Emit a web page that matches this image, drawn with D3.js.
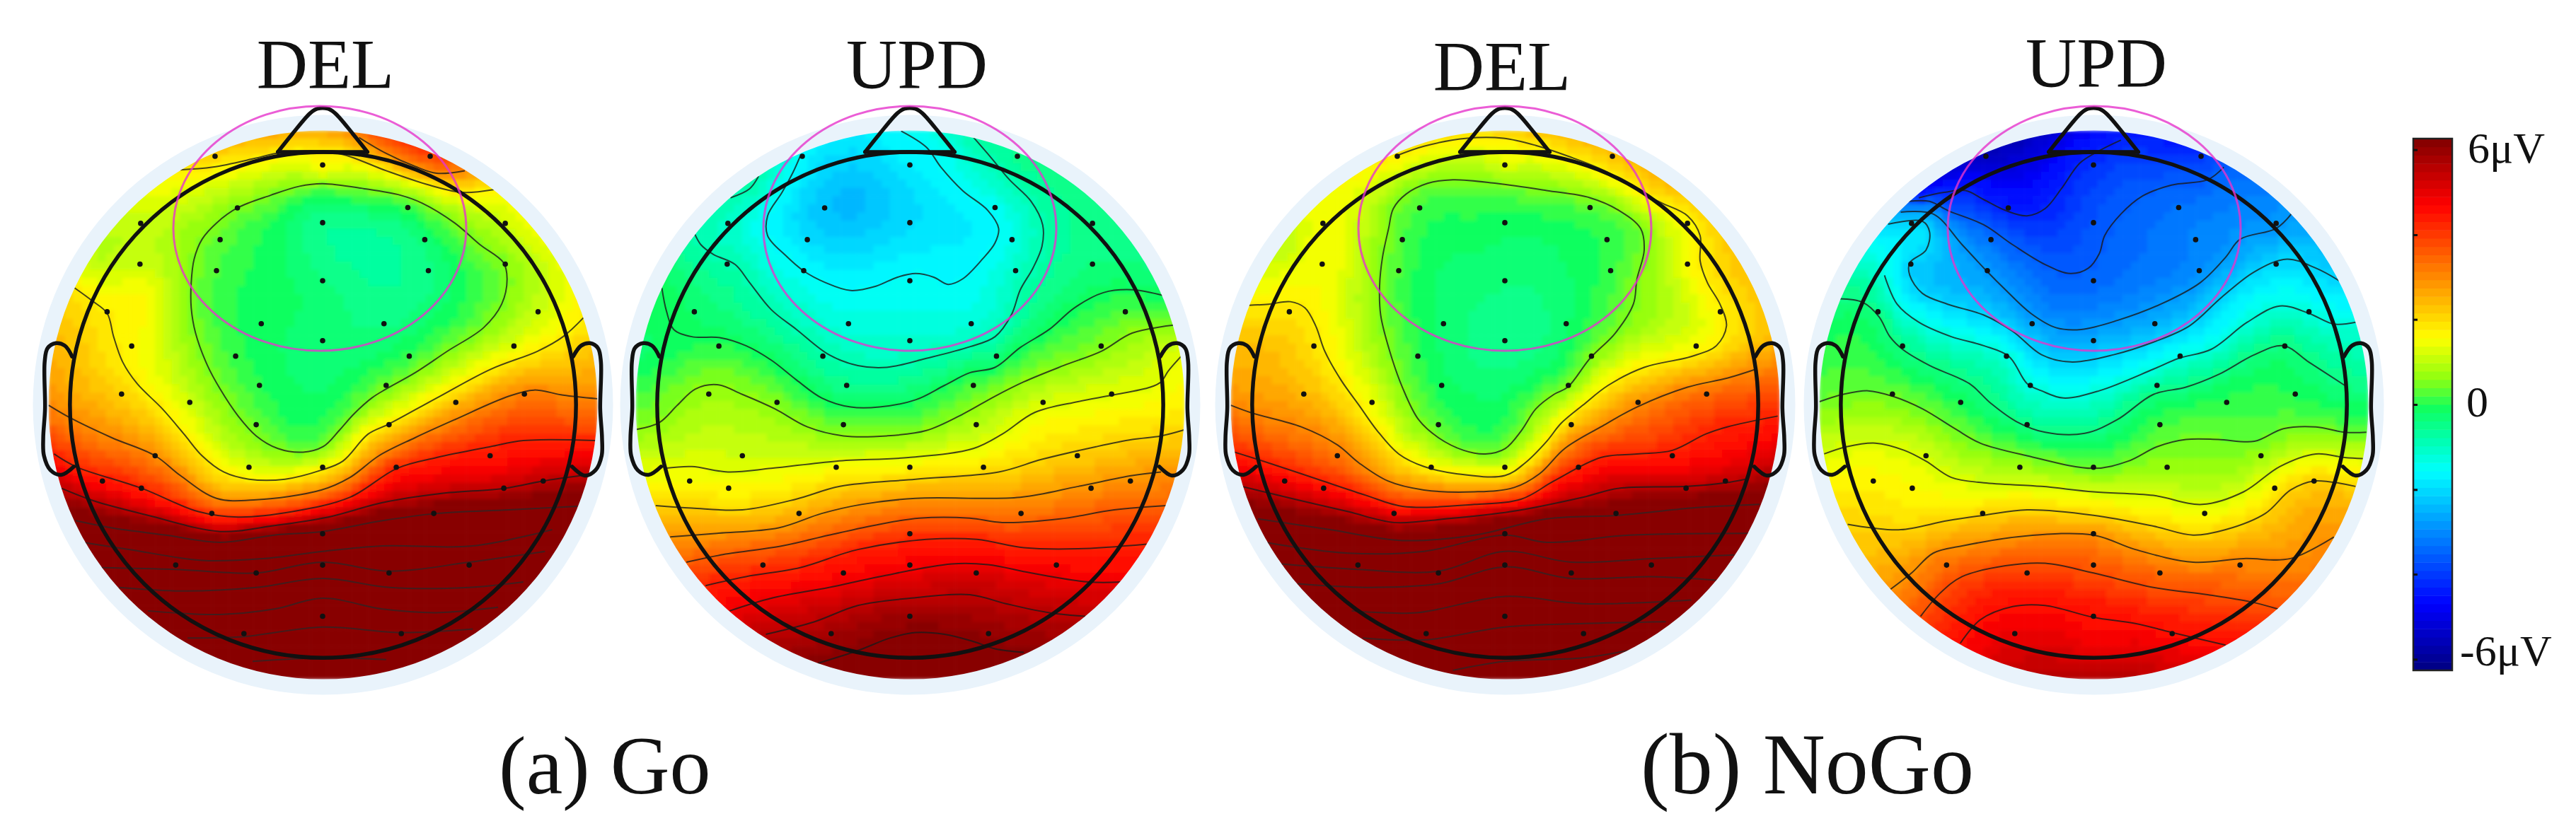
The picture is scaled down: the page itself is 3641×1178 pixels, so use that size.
<!DOCTYPE html>
<html>
<head>
<meta charset="utf-8">
<style>
  html, body { margin: 0; background: #fff; }
  svg { display: block; }
  text { font-family: "Liberation Serif", serif; fill: #111; }
</style>
<script src="https://d3js.org/d3.v7.min.js"></script>
</head>
<body>
<div id="chart"></div>
<script>
// all head data is digitised in the same 0-1568 space for each map
var electrodes = [[486,100],[1082,100],[784,124],[548,243],[1020,242],[784,284],[280,286],[1290,286],[500,331],[1067,331],
  [278,399],[1290,399],[490,417],[1077,417],[784,445],[187,531],[1381,531],[614,564],[954,564],[784,611],[255,626],[1314,626],
  [543,654],[1024,654],[609,735],[960,735],[227,759],[1343,759],[416,782],[1153,782],[600,844],[968,844],[320,930],[1248,930],
  [580,962],[784,962],[988,962],[174,1000],[1395,1000],[282,1020],[1286,1020],[477,1090],[1092,1090],[784,1146],[377,1233],
  [784,1233],[1190,1233],[600,1255],[968,1255],[784,1375],[566,1423],[1002,1423]];

var titles = ["DEL", "UPD", "DEL", "UPD"];
var captions = ["(a) Go", "(b) NoGo"];
var colorTicks = [-5.75, -3.83, -1.92, 0, 1.92, 3.83, 5.75];
var colorLabels = ["6μV", "0", "-6μV"];
var colorLabelValues = [6, 0, -6];

// contour lines (level in µV)
var goDelLevels = [0.5, 1.7, 1.7, 2.9, 2.9, 4.1, 5.3, 6.5, 7.7, 8.9, 10.1, 11.3, 12.5, 13.7];
var goDelLines = [
  [[784,176],[720,183],[640,208],[548,243],[490,285],[450,330],[428,385],[420,450],[420,520],[432,590],[465,680],[500,745],[550,820],[600,875],[660,910],[730,920],[785,905],[830,860],[870,815],[920,770],[960,745],[1040,700],[1130,640],[1230,575],[1280,510],[1295,440],[1285,395],[1220,345],[1150,285],[1060,230],[1000,208],[900,190]],
  [[97,465],[145,500],[187,535],[205,600],[230,670],[270,730],[340,800],[400,870],[450,930],[510,975],[580,995],[680,995],[780,970],[840,945],[910,870],[968,842],[1100,770],[1250,690],[1380,640],[1450,600],[1507,547]],
  [[380,138],[480,130],[600,105],[665,90],[750,85],[840,95],[960,140],[1080,180],[1170,200],[1260,192]],
  [[885,48],[960,92],[1040,128],[1100,147],[1178,140]],
  [[25,790],[85,825],[200,880],[320,930],[390,985],[490,1048],[600,1052],[780,1025],[860,990],[940,930],[1040,880],[1150,830],[1300,765],[1370,748],[1450,762],[1545,772]],
  [[40,925],[100,960],[282,1020],[440,1085],[550,1100],[700,1085],[860,1045],[990,965],[1100,935],[1248,905],[1340,888],[1540,888]],
  [[60,1020],[150,1055],[300,1095],[500,1140],[640,1125],[800,1100],[950,1060],[1110,1035],[1290,1020],[1395,1000],[1500,985]],
  [[100,1110],[200,1130],[350,1150],[500,1170],[650,1150],[784,1140],[950,1110],[1100,1090],[1300,1080],[1490,1070]],
  [[120,1170],[250,1190],[450,1220],[620,1215],[784,1195],[950,1180],[1200,1180],[1420,1135]],
  [[170,1240],[377,1245],[600,1255],[784,1225],[968,1250],[1190,1225],[1400,1195]],
  [[220,1295],[400,1305],[600,1295],[784,1270],[970,1295],[1190,1295],[1340,1280]],
  [[300,1360],[500,1370],[650,1355],[784,1325],[950,1355],[1100,1365],[1270,1350]],
  [[410,1435],[560,1432],[784,1405],[1000,1420],[1200,1410]],
  [[590,1500],[784,1490],[960,1495]]
];
var goDelClosed = [0];
var goDelPeaks = [[950,370,-0.6],[784,500,-0.25],[650,400,-0.1],[740,800,-0.1],[160,400,1.0],[300,300,1.0],[1350,300,1.3],[784,150,1.3],
  [784,40,2.4],[650,60,2.2],[1120,90,3.8],[100,640,2.2],[1530,680,2.4],[300,500,1.5]];

var goUpdLevels = [-1.5, -0.8, -0.8, -0.1, 0.6, 1.3, 2.0, 2.7, 3.4, 4.1, 4.7, 5.3, 5.9];
var goUpdLines = [
  [[760,30],[830,75],[870,130],[930,195],[1000,250],[1030,300],[1020,340],[985,385],[930,440],[890,455],[850,435],[800,425],[750,435],[690,460],[620,472],[550,450],[490,418],[440,375],[390,320],[390,265],[430,200],[460,145],[480,100]],
  [[958,45],[1010,105],[1060,165],[1120,225],[1152,290],[1150,350],[1125,410],[1090,470],[1065,540],[1020,600],[950,628],[830,660],[720,685],[640,680],[560,650],[470,580],[400,525],[340,450],[300,400],[240,372],[205,345],[188,315]],
  [[287,215],[340,190],[365,155]],
  [[97,465],[110,530],[130,580],[180,600],[260,603],[330,625],[400,665],[470,720],[540,770],[620,795],[700,795],[800,775],[880,735],[950,700],[1020,685],[1090,630],[1170,580],[1240,520],[1320,478],[1400,470],[1490,487]],
  [[22,858],[90,838],[140,790],[190,745],[250,733],[320,760],[410,800],[500,850],[600,875],[720,875],[830,860],[930,815],[1020,765],[1100,725],[1210,680],[1315,640],[1400,590],[1515,568]],
  [[105,965],[180,960],[280,975],[400,965],[580,945],[780,935],[960,910],[1040,870],[1130,810],[1250,780],[1345,762],[1450,740],[1480,725],[1500,695],[1535,655]],
  [[80,1068],[180,1075],[320,1080],[470,1050],[590,1015],[800,995],[1030,975],[1150,940],[1300,905],[1400,885],[1480,875],[1545,858]],
  [[120,1155],[250,1145],[420,1130],[540,1090],[650,1065],[800,1048],[1090,1045],[1250,1015],[1400,985],[1480,975]],
  [[165,1225],[260,1205],[430,1180],[560,1150],[700,1120],[810,1103],[950,1103],[1040,1115],[1200,1105],[1350,1080],[1495,1068]],
  [[218,1290],[330,1265],[480,1240],[640,1190],[830,1162],[970,1162],[1100,1185],[1250,1188],[1440,1175]],
  [[285,1360],[400,1325],[560,1295],[700,1265],[900,1230],[1000,1232],[1120,1255],[1280,1280],[1370,1280]],
  [[385,1425],[520,1390],[640,1345],[784,1325],[950,1315],[1050,1340],[1170,1365],[1270,1375]],
  [[530,1505],[640,1470],[730,1435],[800,1420],[880,1425],[960,1445],[1020,1465],[1100,1475]]
];
var goUpdClosed = [];
var goUpdPeaks = [[640,210,-2.3],[550,260,-2.2],[784,290,-1.9],[620,340,-2.0],[784,100,-1.6],[1400,300,-0.5],[200,200,-0.5],[60,640,-0.2],[784,1540,6.0]];

var noGoDelLevels = [0.5, 1.7, 2.9, 4.1, 5.3, 6.5, 7.7, 8.9, 10.1, 11.3, 12.5, 13.7];
var noGoDelLines = [
  [[640,165],[570,175],[510,205],[475,245],[462,300],[445,380],[437,460],[440,540],[465,640],[500,740],[545,830],[600,880],[670,915],[730,925],[785,910],[830,860],[870,800],[920,760],[958,740],[1020,660],[1090,590],[1140,510],[1150,440],[1170,360],[1160,300],[1100,250],[1020,215],[900,195],[760,175]],
  [[75,513],[130,510],[190,503],[230,520],[260,570],[285,640],[330,720],[380,790],[430,860],[490,925],[560,960],[650,980],[784,985],[840,950],[900,890],[940,840],[1000,790],[1070,735],[1170,685],[1300,655],[1370,625],[1398,570],[1380,510],[1345,450],[1325,390],[1325,320],[1290,265],[1220,230],[1170,205],[1060,140],[960,100],[870,70],[780,50],[680,50],[560,72],[480,100]],
  [[25,790],[85,812],[220,850],[320,900],[380,950],[460,1000],[560,1025],[700,1030],[810,1018],[880,980],[950,910],[1050,850],[1150,795],[1290,740],[1400,715],[1480,690]],
  [[35,920],[130,950],[280,1000],[400,1040],[500,1070],[700,1065],[830,1050],[920,1000],[1050,935],[1150,925],[1248,915],[1340,870],[1400,850],[1540,820]],
  [[55,1015],[200,1050],[350,1085],[477,1115],[620,1105],[800,1085],[1000,1045],[1100,1020],[1290,1015],[1395,1005],[1450,995]],
  [[100,1105],[300,1135],[500,1165],[700,1150],[900,1105],[1100,1095],[1300,1075],[1490,1065]],
  [[120,1170],[350,1200],[560,1195],[784,1150],[900,1170],[1130,1150],[1460,1145]],
  [[165,1230],[377,1245],[600,1250],[784,1195],[968,1225],[1190,1215],[1420,1205]],
  [[210,1285],[400,1295],[600,1285],[784,1238],[968,1270],[1190,1265],[1370,1275]],
  [[360,1360],[540,1365],[784,1320],[1000,1340],[1300,1330]],
  [[390,1435],[566,1440],[784,1405],[1002,1395],[1230,1390]],
  [[640,1525],[784,1500],[1000,1490],[1150,1465]]
];
var noGoDelClosed = [0];
var noGoDelPeaks = [[784,450,-0.35],[700,550,-0.4],[700,300,-0.05],[700,800,-0.1],[1000,350,-0.05],[784,30,2.2],[784,130,1.2],[1100,80,2.4],
  [1450,400,2.2],[1300,500,1.2],[170,350,1.0],[300,350,1.5],[100,640,2.3],[1520,640,2.5]];

var noGoUpdLevels = [-4.1, -3.4, -2.7, -2.0, -1.2, -0.4, 0.4, 1.2, 2.0, 2.8, 3.6, 4.4];
var noGoUpdLines = [
  [[300,215],[370,200],[430,195],[480,220],[540,250],[600,265],[650,245],[695,190],[745,120],[790,90],[860,55]],
  [[270,225],[330,225],[380,250],[480,290],[560,345],[650,400],[720,425],[770,410],[800,370],[815,320],[860,260],[920,210],[1000,180],[1100,165],[1145,130]],
  [[250,255],[340,260],[420,345],[490,420],[540,470],[610,535],[680,575],[750,580],[850,555],[970,510],[1080,450],[1150,380],[1190,330],[1290,300],[1332,260]],
  [[215,288],[310,280],[330,310],[320,360],[275,395],[275,430],[310,480],[380,510],[480,540],[560,585],[640,650],[720,670],[840,650],[950,615],[1050,570],[1140,490],[1230,420],[1320,385],[1400,410],[1465,445]],
  [[205,430],[240,510],[300,560],[390,600],[480,625],[550,655],[600,730],[640,750],[700,770],[800,750],[950,690],[1020,660],[1110,635],[1210,560],[1300,515],[1380,535],[1450,565],[1510,560]],
  [[80,495],[145,505],[190,545],[220,600],[255,635],[330,680],[440,730],[500,785],[570,835],[650,865],[760,868],[850,830],[950,760],[1040,740],[1130,705],[1230,650],[1310,625],[1380,670],[1480,735]],
  [[25,780],[90,760],[160,750],[227,765],[310,800],[400,855],[470,895],[600,930],[784,965],[880,945],[960,905],[1040,885],[1130,885],[1230,890],[1310,855],[1400,850],[1480,865],[1540,865]],
  [[38,925],[100,905],[180,895],[260,915],[320,945],[390,990],[480,1005],[640,1015],[784,1030],[950,1040],[1085,1065],[1200,1030],[1300,960],[1400,925],[1480,935],[1530,938]],
  [[103,1120],[170,1130],[250,1135],[380,1110],[480,1095],[600,1080],[784,1095],[950,1125],[1060,1150],[1150,1135],[1260,1090],[1330,1025],[1395,1000],[1510,1015]],
  [[222,1300],[280,1255],[340,1200],[420,1180],[600,1152],[784,1150],[900,1190],[1060,1225],[1200,1215],[1330,1215],[1450,1155]],
  [[305,1375],[360,1310],[420,1265],[540,1235],[650,1228],[784,1255],[950,1295],[1100,1315],[1220,1335],[1295,1355]],
  [[415,1450],[470,1385],[560,1348],[650,1345],[784,1378],[900,1395],[1002,1420],[1150,1455]]
];
var noGoUpdClosed = [];
var noGoUpdPeaks = [[600,130,-4.8],[784,250,-3.6],[1050,300,-3.0],[784,45,-4.4],[1060,90,-4.0],[784,1530,5.3],[784,1450,4.6]];

var maps = [
  {levels: goDelLevels, lines: goDelLines, closed: goDelClosed, peaks: goDelPeaks, left: 56, title: 460, titleY: 124, ringX: 452},
  {levels: goUpdLevels, lines: goUpdLines, closed: goUpdClosed, peaks: goUpdPeaks, left: 886, title: 1296, titleY: 124, ringX: 1286},
  {levels: noGoDelLevels, lines: noGoDelLines, closed: noGoDelClosed, peaks: noGoDelPeaks, left: 1727, title: 2123, titleY: 127, ringX: 2127},
  {levels: noGoUpdLevels, lines: noGoUpdLines, closed: noGoUpdClosed, peaks: noGoUpdPeaks, left: 2559, title: 2963, titleY: 122, ringX: 2960}
];

var width = 3641, height = 1178;
var headX = 785, headY = 789, headR = 701;
var cells = 67;

var svg = d3.select("#chart").append("svg").attr("width", width).attr("height", height);
var defs = svg.append("defs");
defs.append("filter").attr("id", "soft").attr("x", "-5%").attr("y", "-5%").attr("width", "110%").attr("height", "110%")
  .append("feGaussianBlur").attr("stdDeviation", 2.5);

// jet as the colour bar shows it, the greens stay saturated around 0
var jet = d3.scaleLinear()
  .domain([-6, -4.5, -1.5, -0.8, -0.1, 0.6, 1.5, 4.5, 6])
  .range(["#000080", "#0000ff", "#00ffff", "#00ffb0", "#10ff60", "#90ff10", "#ffff00", "#ff0000", "#800000"])
  .clamp(true);
var steps = d3.range(64).map(function(i) { return -6 + (i + 0.5) * 12 / 64; });
var quant = d3.scaleQuantize().domain([-6, 6]).range(steps.map(function(v) { return jet(v); }));

// thin plate spline through the contour points, the same way the topomap surface is built
function fitSurface(points) {
  var n = points.length, N = n + 3, A = [], i, j, k;
  function kern(dx, dy) {
    var r2 = dx * dx + dy * dy;
    return r2 < 1e-12 ? 0 : 0.5 * r2 * Math.log(r2);
  }
  for (i = 0; i < N; i++) A.push(new Float64Array(N + 1));
  for (i = 0; i < n; i++) {
    for (j = 0; j < n; j++) A[i][j] = kern(points[i][0] - points[j][0], points[i][1] - points[j][1]);
    A[i][i] += 2e-4;
    A[i][n] = 1; A[i][n + 1] = points[i][0]; A[i][n + 2] = points[i][1];
    A[n][i] = 1; A[n + 1][i] = points[i][0]; A[n + 2][i] = points[i][1];
    A[i][N] = points[i][2];
  }
  for (k = 0; k < N; k++) {
    var p = k;
    for (i = k + 1; i < N; i++) if (Math.abs(A[i][k]) > Math.abs(A[p][k])) p = i;
    var t = A[k]; A[k] = A[p]; A[p] = t;
    for (i = k + 1; i < N; i++) {
      var f = A[i][k] / A[k][k];
      if (f === 0) continue;
      for (j = k; j <= N; j++) A[i][j] -= f * A[k][j];
    }
  }
  var w = new Float64Array(N);
  for (i = N - 1; i >= 0; i--) {
    var s = A[i][N];
    for (j = i + 1; j < N; j++) s -= A[i][j] * w[j];
    w[i] = s / A[i][i];
  }
  return function(x, y) {
    var v = w[n] + w[n + 1] * x + w[n + 2] * y;
    for (var m = 0; m < n; m++) v += w[m] * kern(x - points[m][0], y - points[m][1]);
    return v;
  };
}

var earLeft = [[90,655],[70,625],[45,618],[22,632],[14,670],[15,800],[10,880],[12,930],[30,970],[60,983],[95,960]];
var earRight = [[1478,655],[1500,625],[1525,618],[1547,632],[1555,670],[1553,800],[1558,880],[1557,930],[1540,970],[1510,985],[1475,960]];
var nose = [[660,88],[700,38],[750,-20],[770,-32],[798,-32],[818,-20],[868,38],[908,88]];
var noseBase = [[660,88],[908,88]];

maps.forEach(function(m, idx) {
  var x = d3.scaleLinear().domain([0, 1568]).range([m.left, m.left + 800]);
  var y = d3.scaleLinear().domain([0, 1568]).range([170, 970]);
  var g = svg.append("g");
  var cx = x(headX), cy = y(headY);
  var capR = 388;

  defs.append("clipPath").attr("id", "cap" + idx).append("circle").attr("cx", cx).attr("cy", cy).attr("r", capR);

  g.append("circle").attr("cx", cx).attr("cy", cy).attr("r", 410).attr("fill", "#e9f3fb");

  var pts = [];
  m.lines.forEach(function(line, i) {
    line.forEach(function(d, k) {
      pts.push([d[0] / 784 - 1, d[1] / 784 - 1, m.levels[i]]);
      var next = line[k + 1];
      if (next && Math.hypot(next[0] - d[0], next[1] - d[1]) > 130) {
        pts.push([(d[0] + next[0]) / 1568 - 1, (d[1] + next[1]) / 1568 - 1, m.levels[i]]);
      }
    });
  });
  m.peaks.forEach(function(d) { pts.push([d[0] / 784 - 1, d[1] / 784 - 1, d[2]]); });
  var surface = fitSurface(pts);

  var bx = d3.scaleBand().domain(d3.range(cells)).range([cx - capR, cx + capR]);
  var by = d3.scaleBand().domain(d3.range(cells)).range([cy - capR, cy + capR]);
  var grid = [];
  d3.range(cells).forEach(function(r) {
    d3.range(cells).forEach(function(c) {
      var px = bx(c) + bx.bandwidth() / 2, py = by(r) + by.bandwidth() / 2;
      if (Math.hypot(px - cx, py - cy) > capR + 14) return;
      grid.push({r: r, c: c, v: surface(x.invert(px) / 784 - 1, y.invert(py) / 784 - 1)});
    });
  });

  var cap = g.append("g").attr("clip-path", "url(#cap" + idx + ")");
  cap.append("g").attr("filter", "url(#soft)").selectAll("rect").data(grid).enter().append("rect")
    .attr("x", function(d) { return bx(d.c); })
    .attr("y", function(d) { return by(d.r); })
    .attr("width", bx.bandwidth() + 0.6)
    .attr("height", by.bandwidth() + 0.6)
    .attr("fill", function(d) { return quant(d.v); });

  var open = d3.line().x(function(d) { return x(d[0]); }).y(function(d) { return y(d[1]); }).curve(d3.curveCatmullRom.alpha(0.5));
  var shut = d3.line().x(function(d) { return x(d[0]); }).y(function(d) { return y(d[1]); }).curve(d3.curveCatmullRomClosed.alpha(0.5));
  cap.selectAll(".contour").data(m.lines).enter().append("path")
    .attr("class", "contour")
    .attr("d", function(d, i) { return m.closed.indexOf(i) >= 0 ? shut(d) : open(d); })
    .attr("fill", "none")
    .attr("stroke", function(d, i) { return m.levels[i] > 6 ? "#3a2020" : "#1a1a1a"; })
    .attr("stroke-opacity", function(d, i) { return m.levels[i] > 6 ? 0.9 : 0.8; })
    .attr("stroke-width", 2);

  // head outline
  var round = d3.line().x(function(d) { return x(d[0]); }).y(function(d) { return y(d[1]); }).curve(d3.curveCatmullRom.alpha(0.5));
  [earLeft, earRight, nose, noseBase].forEach(function(e) {
    g.append("path").attr("d", round(e)).attr("fill", "none").attr("stroke", "#111").attr("stroke-width", 5.5).attr("stroke-linecap", "round");
  });
  g.append("circle").attr("cx", cx).attr("cy", cy).attr("r", x(headX + headR) - cx)
    .attr("fill", "none").attr("stroke", "#111").attr("stroke-width", 5.5);

  g.selectAll(".dot").data(electrodes).enter().append("circle")
    .attr("class", "dot")
    .attr("cx", function(d) { return x(d[0]); })
    .attr("cy", function(d) { return y(d[1]); })
    .attr("r", 3.8).attr("fill", "#111");

  g.append("ellipse").attr("cx", m.ringX).attr("cy", 323).attr("rx", 207).attr("ry", 173)
    .attr("fill", "none").attr("stroke", "#e635cc").attr("stroke-opacity", 0.8).attr("stroke-width", 3);

  svg.append("text").attr("x", m.title).attr("y", m.titleY).attr("text-anchor", "middle")
    .attr("font-size", 100).text(titles[idx]);
});

svg.append("text").attr("x", 705).attr("y", 1122).attr("font-size", 116).text(captions[0]);
svg.append("text").attr("x", 2319).attr("y", 1122).attr("font-size", 122).text(captions[1]);

// colour bar
var barY = d3.scaleLinear().domain([6, -6]).range([196, 948]);
var barBand = d3.scaleBand().domain(steps).range([948, 196]);
var bar = svg.append("g");
bar.selectAll("rect").data(steps).enter().append("rect")
  .attr("x", 3411).attr("width", 55)
  .attr("y", function(d) { return barBand(d); })
  .attr("height", barBand.bandwidth() + 0.5)
  .attr("fill", function(d) { return jet(d); });
bar.append("rect").attr("x", 3411).attr("y", 196).attr("width", 55).attr("height", 752)
  .attr("fill", "none").attr("stroke", "#222").attr("stroke-width", 2.5);
var axis = d3.axisLeft(barY).tickValues(colorTicks).tickSize(-6).tickFormat("");
bar.append("g").attr("transform", "translate(3411,0)").call(axis)
  .call(function(s) {
    s.select(".domain").remove();
    s.selectAll("line").attr("stroke", "#111").attr("stroke-width", 3);
  });

var labelX = [3488, 3486, 3477], labelDy = [34, 17, -7];
colorLabels.forEach(function(t, i) {
  svg.append("text").attr("x", labelX[i]).attr("y", barY(colorLabelValues[i]) + labelDy[i])
    .attr("font-size", 62).text(t);
});
</script>
</body>
</html>
